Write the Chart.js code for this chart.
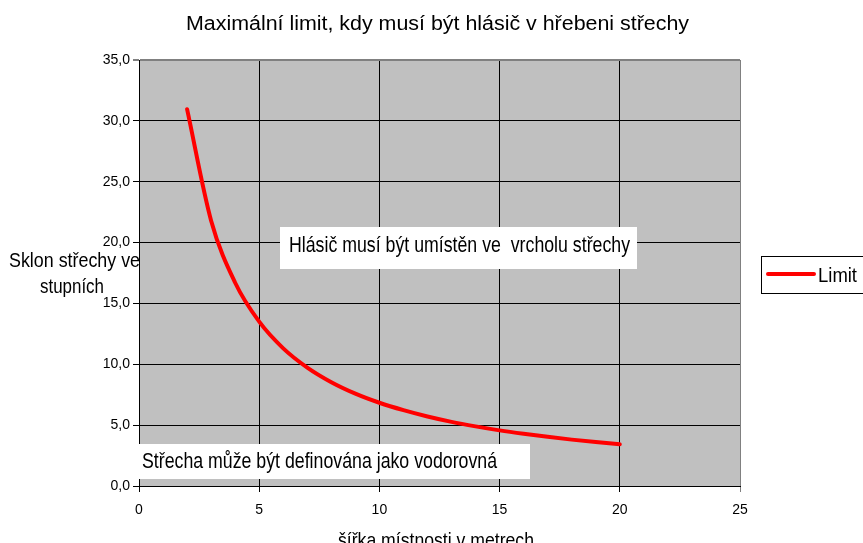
<!DOCTYPE html>
<html>
<head>
<meta charset="utf-8">
<script src="https://cdn.jsdelivr.net/npm/chart.js@4"></script>
<style>
  html, body { margin: 0; padding: 0; background: #fff; }
  #wrap { width: 863px; height: 543px; }
</style>
</head>
<body>
<div id="wrap"><canvas id="lineChart" width="863" height="543"></canvas></div>
<script>
// room width in metres and max roof slope in degrees
var widths = [2, 3, 4, 5, 6, 7, 8, 9, 10, 11, 12, 13, 14, 15, 16, 17, 18, 19, 20];
var slopes = [30.96, 21.80, 16.70, 13.50, 11.31, 9.73, 8.53, 7.59, 6.84, 6.23, 5.71, 5.27, 4.90, 4.57, 4.29, 4.04, 3.81, 3.61, 3.43];
var xTicks = [0, 5, 10, 15, 20, 25];
var yTicks = [0, 5, 10, 15, 20, 25, 30, 35];

var FONT = "'Liberation Sans', Arial, sans-serif";

var points = widths.map(function (w, i) { return { x: w, y: slopes[i] }; });

// draws text squeezed/stretched to a given width (the original uses a narrow arial)
function fitText(c, text, left, baseline, size, width) {
  c.font = size + 'px ' + FONT;
  var w = c.measureText(text).width;
  c.save();
  c.translate(left, baseline);
  c.scale(width / w, 1);
  c.textAlign = 'left';
  c.textBaseline = 'alphabetic';
  c.fillText(text, 0, 0);
  c.restore();
}

var chartDecor = {
  id: 'chartDecor',
  beforeDraw: function (chart) {
    var c = chart.ctx, a = chart.chartArea;
    c.save();
    c.fillStyle = '#fff';
    c.fillRect(0, 0, chart.width, chart.height);
    c.fillStyle = '#c0c0c0';
    c.fillRect(a.left, a.top, a.right - a.left, a.bottom - a.top);
    c.restore();
  },
  afterDatasetsDraw: function (chart) {
    var c = chart.ctx;
    c.save();
    // annotation boxes
    c.fillStyle = '#fff';
    c.fillRect(280, 227, 357, 42);
    c.fillRect(137, 444, 393, 35);
    c.fillStyle = '#000';
    fitText(c, 'Hlásič musí být umístěn ve  vrcholu střechy', 289, 252, 22, 341);
    fitText(c, 'Střecha může být definována jako vodorovná', 142, 468, 22, 355);

    // title
    fitText(c, 'Maximální limit, kdy musí být hlásič v hřebeni střechy', 186, 30, 20, 503);

    // axis titles
    fitText(c, 'Sklon střechy ve', 9, 267, 21, 131);
    fitText(c, 'stupních', 40, 293, 21, 64);
    fitText(c, 'šířka místnosti v metrech', 338, 547, 21, 196);

    // legend
    c.fillStyle = '#fff';
    c.fillRect(761.5, 256.5, 110, 37);
    c.strokeStyle = '#000';
    c.lineWidth = 1;
    c.strokeRect(761.5, 256.5, 110, 37);
    c.strokeStyle = '#ff0000';
    c.lineWidth = 4;
    c.lineCap = 'round';
    c.beginPath();
    c.moveTo(768, 274);
    c.lineTo(814, 274);
    c.stroke();
    c.fillStyle = '#000';
    fitText(c, 'Limit', 818, 282, 21, 39);
    c.restore();
  }
};

var ctxL = document.getElementById('lineChart').getContext('2d');
var myLineChart = new Chart(ctxL, {
  type: 'line',
  data: {
    datasets: [{
      label: 'Limit',
      data: points,
      borderColor: '#ff0000',
      borderWidth: 4,
      borderCapStyle: 'round',
      pointRadius: 0,
      cubicInterpolationMode: 'monotone',
      fill: false
    }]
  },
  options: {
    responsive: false,
    animation: false,
    layout: { padding: { left: 0, top: 60, right: 123, bottom: 0 } },
    plugins: {
      legend: { display: false },
      title: { display: false },
      tooltip: { enabled: false }
    },
    scales: {
      x: {
        type: 'linear',
        min: 0,
        max: 25,
        afterFit: function (s) { s.height = 57; },
        afterBuildTicks: function (s) { s.ticks = xTicks.map(function (v) { return { value: v }; }); },
        grid: {
          color: function (ctx) { return ctx.tick && ctx.tick.value === 25 ? '#808080' : '#000'; },
          lineWidth: 1,
          tickLength: 6,
          drawTicks: true
        },
        border: { color: '#000', width: 1 },
        ticks: {
          color: '#000',
          font: { family: FONT, size: 14 },
          padding: 10,
          maxRotation: 0,
          callback: function (v) { return String(v); }
        }
      },
      y: {
        type: 'linear',
        min: 0,
        max: 35,
        afterFit: function (s) { s.width = 139; },
        afterBuildTicks: function (s) { s.ticks = yTicks.map(function (v) { return { value: v }; }); },
        grid: {
          color: function (ctx) { return ctx.tick && ctx.tick.value === 35 ? '#808080' : '#000'; },
          lineWidth: function (ctx) { return ctx.tick && ctx.tick.value === 35 ? 2 : 1; },
          tickLength: 6,
          drawTicks: true
        },
        border: { color: '#000', width: 1 },
        ticks: {
          color: '#000',
          font: { family: FONT, size: 14 },
          padding: 3,
          callback: function (v) { return v.toFixed(1).replace('.', ','); }
        }
      }
    }
  },
  plugins: [chartDecor]
});
</script>
</body>
</html>
